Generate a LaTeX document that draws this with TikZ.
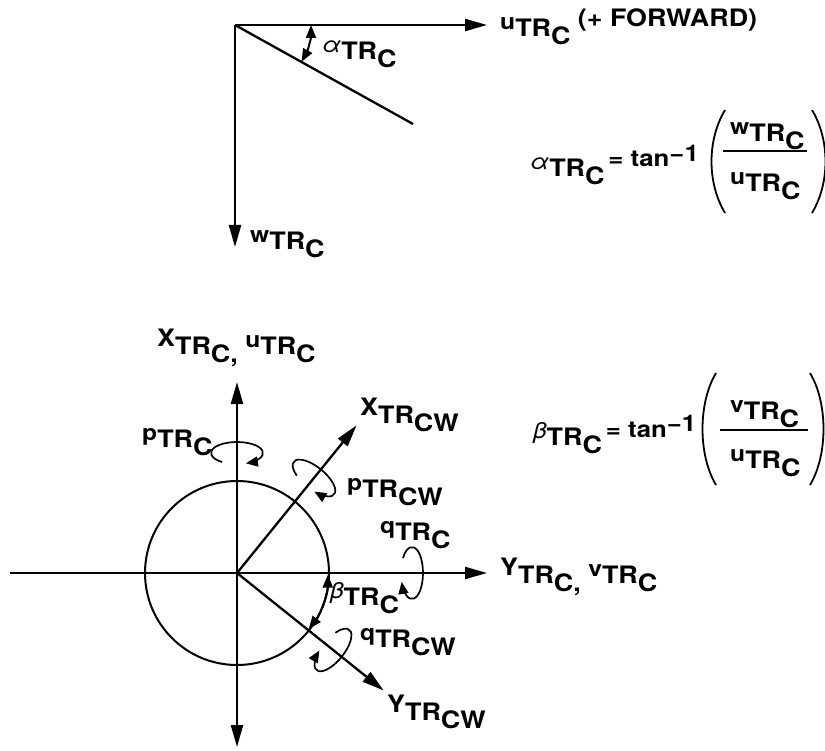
\documentclass[tikz,border=0pt]{standalone}
\usepackage{fontspec}
\setmainfont{TeX Gyre Heros}[FakeStretch=1.12]
\usetikzlibrary{arrows.meta, positioning, calc}

\newcommand{\prefnt}{\fontsize{22}{22}\selectfont}
\newcommand{\eqfnt}{\fontsize{23}{23}\selectfont}
% small raised letter, TR, lowered subscript
\newcommand{\trsym}[2]{{\prefnt\raisebox{7pt}{#1}}TR\raisebox{-8pt}{#2}}
\newcommand{\trbig}[2]{\raisebox{8pt}{#1}TR\raisebox{-8pt}{#2}}
\newcommand{\grk}[1]{{\mdseries\itshape #1}}

\begin{document}
\begin{tikzpicture}[x=1pt, y=1pt,
    axis/.style={line width=2.3pt, -{Triangle[length=22pt,width=12pt]}},
    angarrow/.style={line width=2pt, {Triangle[length=13pt,width=10pt]}-{Triangle[length=13pt,width=10pt]}},
    lbl/.style={inner sep=0pt, anchor=base west, font=\fontsize{24}{24}\selectfont\bfseries},
    paren/.style={line width=1.8pt},
    rotloop/.pic={
        \draw[line width=1.7pt, -{Triangle[length=12pt,width=10pt]}]
            (235:26 and 11) arc[start angle=235, end angle=-70, x radius=26, y radius=11];
    }]
    \useasboundingbox (0,0) rectangle (825,-751);

    % top sketch
    \coordinate (O1) at (235,-25);
    \coordinate (uTip) at (487,-25);
    \coordinate (wTip) at (235,-247);
    \coordinate (diagEnd) at (413,-124);
    \draw[axis] (O1) -- (uTip);
    \draw[axis] (O1) -- (wTip);
    \draw[line width=2.3pt] (O1) -- (diagEnd);
    \draw[angarrow] ($(O1)+(0:76)$) arc[start angle=0, end angle=-29, radius=76];

    \node[lbl] (uLbl) at (500,-37) {\trsym{u}{C} \raisebox{10pt}{(+ FORWARD)}};
    \node[lbl] (alphaLbl) at (322,-60) {\trsym{\grk{α}}{C}};
    \node[lbl] (wLbl) at (250,-250) {\trsym{w}{C}};

    % alpha formula
    \node[lbl] (alphaEq) at (530,-177) {\trsym{\grk{α}}{C}\,{\eqfnt\raisebox{10pt}{= tan\raisebox{5pt}{−1}}}};
    \node[lbl] (wNum) at (730,-142) {\trsym{w}{C}};
    \node[lbl] (uDen) at (730,-192) {\trsym{u}{C}};
    \coordinate (barA1) at (723,-151);
    \coordinate (barA2) at (807,-151);
    \draw[line width=1.8pt] (barA1) -- (barA2);
    \draw[paren] (725,-110) .. controls (707,-140) and (707,-183) .. (725,-213);
    \draw[paren] (812,-110) .. controls (830,-140) and (830,-183) .. (812,-213);

    % bottom sketch
    \coordinate (C2) at (237,-573);
    \coordinate (hStart) at (10,-573);
    \coordinate (hTip) at (487,-573);
    \coordinate (vTop) at (237,-382);
    \coordinate (vBot) at (237,-747);
    \coordinate (xcwTip) at ($(C2)+(51:190)$);
    \coordinate (ycwTip) at ($(C2)+(-38.7:188)$);
    \draw[line width=2pt] (C2) circle[radius=92];
    \draw[axis] (hStart) -- (hTip);
    \draw[axis] (C2) -- (vTop);
    \draw[axis] (C2) -- (vBot);
    \draw[axis] (C2) -- (xcwTip);
    \draw[axis] (C2) -- (ycwTip);
    \draw[angarrow] ($(C2)+(-1:91)$) arc[start angle=-1, end angle=-38, radius=91];

    \pic at (237,-453) {rotloop};
    \pic[rotate=-39] at (314,-478) {rotloop};
    \pic[rotate=-90] at (412,-573) {rotloop};
    \pic[rotate=-129] at (333,-650) {rotloop};

    \node[lbl] (xLbl) at (157,-355) {\trbig{X}{C,} \trsym{u}{C}};
    \node[lbl] (xcwLbl) at (360,-423) {\trbig{X}{CW}};
    \node[lbl] (pLbl) at (142,-447) {\trsym{p}{C}};
    \node[lbl] (pcwLbl) at (347,-497) {\trsym{p}{CW}};
    \node[lbl] (qLbl) at (380,-540) {\trsym{q}{C}};
    \node[lbl] (yLbl) at (500,-583) {\trbig{Y}{C,} \trsym{v}{C}};
    \node[lbl] (betaLbl) at (330,-605) {\trsym{\grk{β}}{C}};
    \node[lbl] (qcwLbl) at (360,-647) {\trsym{q}{CW}};
    \node[lbl] (ycwLbl) at (387,-720) {\trbig{Y}{CW}};

    % beta formula
    \node[lbl] (betaEq) at (533,-445) {\trsym{\grk{β}}{C}\,{\eqfnt\raisebox{8pt}{= tan\raisebox{5pt}{−1}}}};
    \node[lbl] (vNum) at (730,-420) {\trsym{v}{C}};
    \node[lbl] (uDen2) at (730,-468) {\trsym{u}{C}};
    \coordinate (barB1) at (720,-430);
    \coordinate (barB2) at (808,-430);
    \draw[line width=1.8pt] (barB1) -- (barB2);
    \draw[paren] (716,-373) .. controls (698,-403) and (698,-455) .. (716,-485);
    \draw[paren] (810,-373) .. controls (828,-403) and (828,-455) .. (810,-485);
\end{tikzpicture}
\end{document}
